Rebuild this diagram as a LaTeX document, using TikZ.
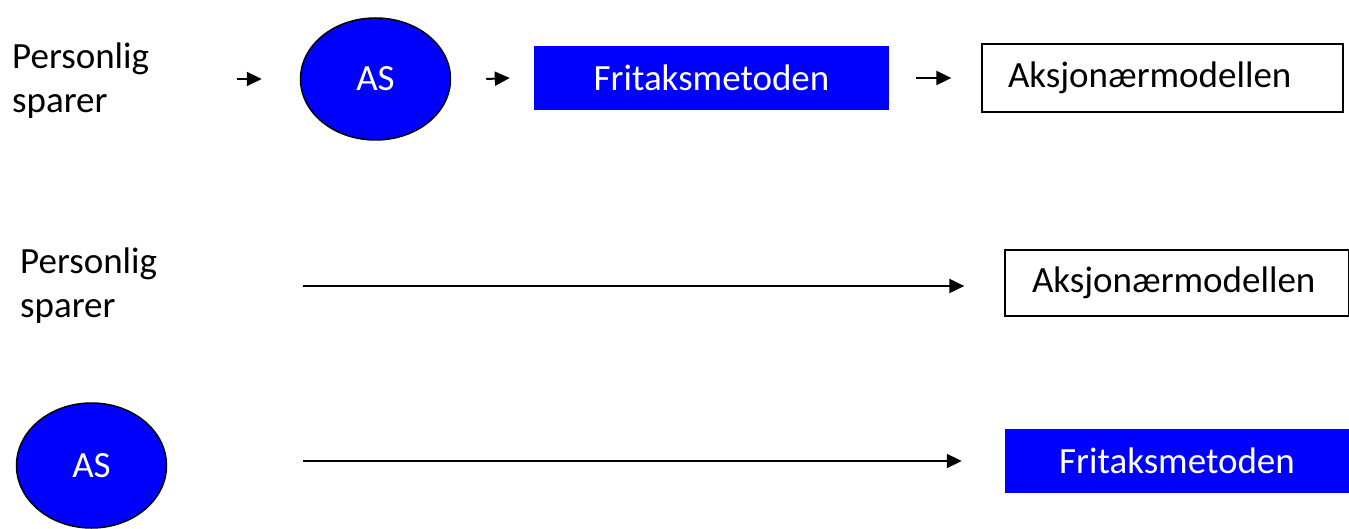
\documentclass[tikz,border=0pt]{standalone}
\usepackage{fontspec}
\setmainfont{Carlito}
\usetikzlibrary{shapes.geometric,arrows.meta}
\begin{document}
\begin{tikzpicture}[x=1pt,y=-1pt,
  every node/.style={font=\fontsize{37}{44}\selectfont},
  lbl/.style={anchor=west,align=left,inner sep=0pt},
  asnode/.style={ellipse,draw=black,line width=1.5pt,fill=blue,text=white,minimum width=150pt,minimum height=122pt,inner sep=0pt},
  fribox/.style={rectangle,fill=blue,text=white,minimum height=64pt,inner sep=0pt},
  akbox/.style={rectangle,draw=black,line width=1.3pt,align=left,inner xsep=26pt,inner ysep=0pt},
  arr/.style={line width=2pt,-{Triangle[length=15pt,width=14pt]}}]
\useasboundingbox (0,0) rectangle (1349,529);
% row 1
\node[lbl] (p1) at (12,81) {Personlig\\sparer};
\node[asnode] (as1) at (375.5,79) {AS};
\node[fribox,minimum width=355pt] (f1) at (711.5,78) {Fritaksmetoden};
\node[akbox,text width=309pt,minimum height=68pt] (ak1) at (1162.5,78) {Aksjonærmodellen};
\draw[arr] ([xshift=-63pt]as1.west) -- ([xshift=-38pt]as1.west);
\draw[arr] ([xshift=35pt]as1.east) -- ([xshift=-24pt]f1.west);
\draw[arr] ([xshift=27pt]f1.east) -- ([xshift=-30pt]ak1.west);
% row 2
\node[lbl] (p2) at (20,286) {Personlig\\sparer};
\node[akbox,text width=290pt,minimum height=66pt,inner xsep=27pt] (ak2) at (1177,283) {Aksjonærmodellen};
\draw[arr,shorten <=146pt,shorten >=40pt] (p2.east) -- (p2.east -| ak2.west);
% row 3
\node[asnode,minimum height=125pt] (as3) at (91.5,465.5) {AS};
\node[fribox,minimum width=344pt] (f3) at (1177,461) {Fritaksmetoden};
\draw[arr,shorten <=136pt,shorten >=43pt] (as3.east |- f3.west) -- (f3.west);
\end{tikzpicture}
\end{document}
